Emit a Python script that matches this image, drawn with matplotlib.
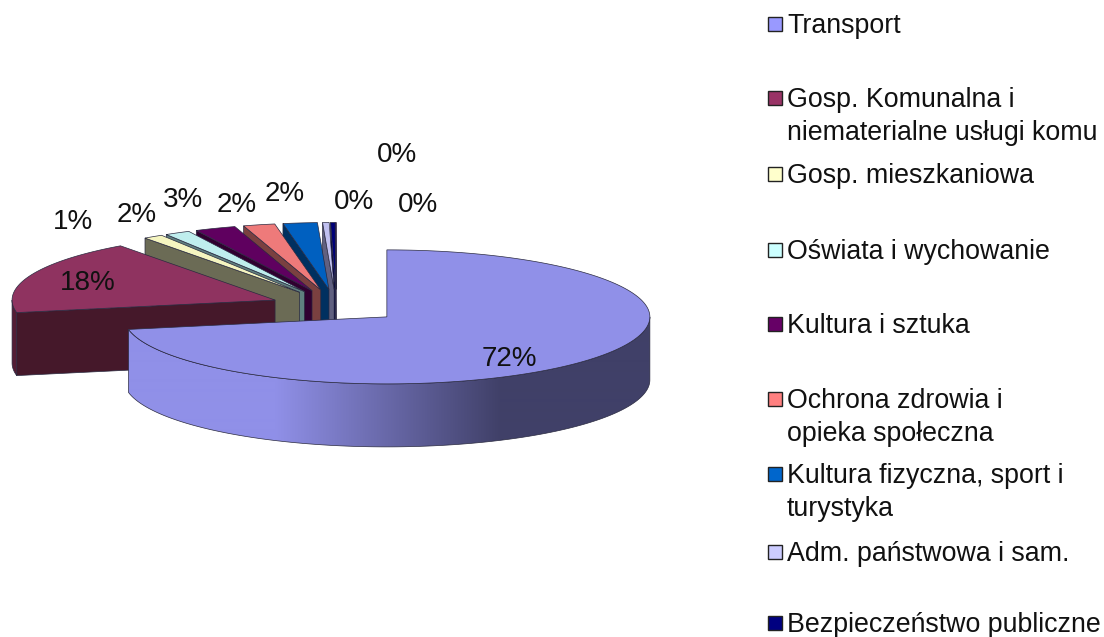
import numpy as np
import matplotlib
matplotlib.use("Agg")
import matplotlib.pyplot as plt
from matplotlib.colors import to_rgb
from matplotlib.patches import Polygon, Rectangle

plt.rcParams['font.family'] = ['Liberation Sans', 'DejaVu Sans']

# dane
kategorie = ["Transport", "Gosp. Komunalna i\nniematerialne usługi komu", "Gosp. mieszkaniowa",
             "Oświata i wychowanie", "Kultura i sztuka", "Ochrona zdrowia i\nopieka społeczna",
             "Kultura fizyczna, sport i\nturystyka", "Adm. państwowa i sam.", "Bezpieczeństwo publiczne"]
wartosci = [72.0, 18.0, 1.2, 1.55, 2.51, 1.94, 2.1, 0.4, 0.28, 0.02]
kolory_legendy = ["#9999FF", "#993366", "#FFFFCC", "#CCFFFF", "#660066", "#FF8080",
                  "#0066CC", "#CCCCFF", "#000080", "#FF00FF"]
kolory_gora = ["#9090E8", "#8F3360", "#F5F5C0", "#BFEEEE", "#5F005F", "#EE7A7A",
               "#0060C0", "#C0C0F0", "#000078", "#F000F0"]
kolory_bok = ["#404068", "#45182A", "#6B6B55", "#5F7F7F", "#300030", "#7A4040",
              "#003060", "#606080", "#000040", "#700070"]

# polozenie etykiet procentowych (piksele)
etykiety_x = [509, 88, 73, 137, 183, 237, 285, 354, 418, 397]
etykiety_y = [359, 283, 222, 215, 200, 205, 194, 202, 205, 155]
legenda_y = [24, 98, 174, 250, 324, 399, 474, 552, 623]

# geometria "3D"
cx, cy = 336.2, 306.2
rx, ry = 263.0, 67.0
glebokosc = 63.0
wysuniecie = 0.25
krawedz = "#2A2A40"

fig = plt.figure(figsize=(11.04, 6.37), dpi=100)
ax = fig.add_axes([0, 0, 1, 1])

suma = sum(wartosci)
granice = np.cumsum([0] + wartosci) / suma * 2 * np.pi


def punkty(x0, y0, t):
    return x0 + rx * np.sin(t), y0 - ry * np.cos(t)


# od tylu do przodu
for i in range(len(wartosci) - 1, -1, -1):
    t0, t1 = granice[i], granice[i + 1]
    tm = (t0 + t1) / 2
    x0 = cx + wysuniecie * rx * np.sin(tm)
    y0 = cy - wysuniecie * ry * np.cos(tm)
    ciemny = np.array(to_rgb(kolory_bok[i]))
    jasny = np.array(to_rgb(kolory_gora[i]))

    # sciana promieniowa (tylko dla lewej polowy)
    if t0 > np.pi:
        xs, ys = punkty(x0, y0, t0)
        ax.fill([x0, xs, xs, x0], [y0, ys, ys + glebokosc, y0 + glebokosc],
                facecolor=kolory_bok[i], edgecolor=krawedz, lw=0.5, zorder=i * -3 + 40)

    # sciana zewnetrzna, widoczna tylko z przodu
    a0, a1 = max(t0, np.pi / 2), min(t1, 3 * np.pi / 2)
    if a1 > a0:
        t = np.linspace(a0, a1, 300)
        xa, ya = punkty(x0, y0, t)
        obrys = np.c_[np.r_[xa, xa[::-1]], np.r_[ya, ya[::-1] + glebokosc]]
        sciana = Polygon(obrys, closed=True, facecolor="none", edgecolor=krawedz,
                         lw=0.5, zorder=i * -3 + 41.5)
        ax.add_patch(sciana)
        if i == 0:
            # gradient bryly: jasny z lewej, ciemny z prawej
            u = np.clip((np.arange(1104) - 275) / 225, 0, 1)[None, :, None]
            gradient = jasny * (1 - u) + ciemny * u
            im = ax.imshow(gradient, extent=(0, 1104, 637, 0), aspect="auto",
                           interpolation="bilinear", zorder=i * -3 + 41)
            im.set_clip_path(sciana)
        else:
            ax.fill(obrys[:, 0], obrys[:, 1], facecolor=jasny * 0.2 + ciemny * 0.8,
                    edgecolor="none", zorder=i * -3 + 41)

    # gora wycinka
    t = np.linspace(t0, t1, 300)
    xa, ya = punkty(x0, y0, t)
    ax.fill(np.r_[x0, xa], np.r_[y0, ya], facecolor=kolory_gora[i],
            edgecolor=krawedz, lw=0.5, zorder=i * -3 + 42)

# etykiety procentowe
for i in range(len(wartosci)):
    ax.text(etykiety_x[i], etykiety_y[i], f"{wartosci[i] / suma * 100:.0f}%",
            fontsize=20, color="#111111", ha="center", va="center", zorder=60)

# legenda
for i in range(len(kategorie)):
    ax.add_patch(Rectangle((767.5, legenda_y[i] - 7), 14, 14, facecolor=kolory_legendy[i],
                           edgecolor="#222222", lw=1.0, zorder=60))
    ax.text(787, legenda_y[i] - 11, kategorie[i], fontsize=19.3, color="#111111",
            ha="left", va="top", linespacing=1.33, zorder=60)

ax.set_xlim(0, 1104)
ax.set_ylim(637, 0)
ax.axis("off")

fig.savefig("out.png", dpi=100)
